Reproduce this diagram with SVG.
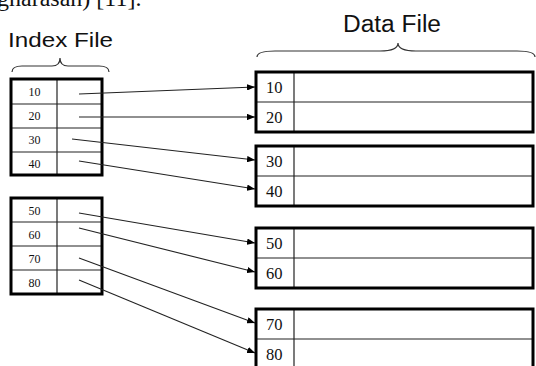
<svg xmlns="http://www.w3.org/2000/svg" width="536" height="366" viewBox="0 0 536 366">
<style>
.outer{fill:none;stroke:#000;stroke-width:3}
.inner{stroke:#222;stroke-width:1.2;fill:none}
.brace{fill:none;stroke:#333;stroke-width:1.2}
.title{font-family:"Liberation Sans",Arial,sans-serif;fill:#111}
.it{font-family:"Liberation Serif","Times New Roman",serif;font-size:12px;fill:#111;text-anchor:middle}
.dt{font-family:"Liberation Serif","Times New Roman",serif;font-size:16.5px;fill:#111}
.conn line{stroke:#222;stroke-width:1.1;marker-end:url(#ah)}
</style>
<defs>
<marker id="ah" viewBox="0 0 10 8" refX="10" refY="4" markerWidth="8" markerHeight="6.4" markerUnits="userSpaceOnUse" orient="auto">
<path d="M0,0 L10,4 L0,8 z" fill="#000"/>
</marker>
</defs>
<rect width="536" height="366" fill="#fff"/>
<text x="-3" y="6" font-family="Liberation Serif,serif" font-size="24" fill="#111">gharasan) [11].</text>

<g id="index-title">
<text class="title" x="8" y="47" font-size="21" textLength="105" lengthAdjust="spacingAndGlyphs">Index File</text>
<path class="brace" d="M12,72 Q12,66 22,66 L52,66 Q60,66 60,58 Q60,66 68,66 L99,66 Q109,66 109,72"/>
</g>
<g id="data-title">
<text class="title" x="343" y="32" font-size="23" textLength="98" lengthAdjust="spacingAndGlyphs">Data File</text>
<path class="brace" d="M257,57 Q257,51 275,51 L380,51 Q398,51 398,43 Q398,51 416,51 L517,51 Q535,51 535,57"/>
</g>

<g id="index-block-1">
<line class="inner" x1="11" y1="104" x2="102" y2="104"/>
<line class="inner" x1="11" y1="128" x2="102" y2="128"/>
<line class="inner" x1="11" y1="152" x2="102" y2="152"/>
<line class="inner" x1="57" y1="79" x2="57" y2="175"/>
<rect class="outer" x="11" y="79" width="91" height="96"/>
<text class="it" x="34.5" y="96">10</text>
<text class="it" x="34.5" y="120">20</text>
<text class="it" x="34.5" y="144">30</text>
<text class="it" x="34.5" y="168">40</text>
</g>

<g id="index-block-2">
<line class="inner" x1="11" y1="222" x2="102" y2="222"/>
<line class="inner" x1="11" y1="246" x2="102" y2="246"/>
<line class="inner" x1="11" y1="270" x2="102" y2="270"/>
<line class="inner" x1="57" y1="198" x2="57" y2="294"/>
<rect class="outer" x="11" y="198" width="91" height="96"/>
<text class="it" x="34.5" y="215">50</text>
<text class="it" x="34.5" y="239">60</text>
<text class="it" x="34.5" y="263">70</text>
<text class="it" x="34.5" y="287">80</text>
</g>

<g id="data-block-1">
<line class="inner" x1="256" y1="102" x2="533" y2="102"/>
<line class="inner" x1="294" y1="72" x2="294" y2="132"/>
<rect class="outer" x="256" y="72" width="277" height="60"/>
<text class="dt" x="266" y="93">10</text>
<text class="dt" x="266" y="123">20</text>
</g>
<g id="data-block-2">
<line class="inner" x1="256" y1="176" x2="533" y2="176"/>
<line class="inner" x1="294" y1="146" x2="294" y2="206"/>
<rect class="outer" x="256" y="146" width="277" height="60"/>
<text class="dt" x="266" y="167">30</text>
<text class="dt" x="266" y="197">40</text>
</g>
<g id="data-block-3">
<line class="inner" x1="256" y1="258" x2="533" y2="258"/>
<line class="inner" x1="294" y1="228" x2="294" y2="288"/>
<rect class="outer" x="256" y="228" width="277" height="60"/>
<text class="dt" x="266" y="249">50</text>
<text class="dt" x="266" y="279">60</text>
</g>
<g id="data-block-4">
<line class="inner" x1="256" y1="339" x2="533" y2="339"/>
<line class="inner" x1="294" y1="309" x2="294" y2="369"/>
<rect class="outer" x="256" y="309" width="277" height="60"/>
<text class="dt" x="266" y="330">70</text>
<text class="dt" x="266" y="360">80</text>
</g>

<g id="connectors" class="conn">
<line x1="79" y1="94" x2="255" y2="87"/>
<line x1="79" y1="117" x2="255" y2="117"/>
<line x1="72" y1="139" x2="255" y2="160"/>
<line x1="79" y1="161" x2="255" y2="189"/>
<line x1="79" y1="213" x2="255" y2="243"/>
<line x1="79" y1="228" x2="255" y2="272"/>
<line x1="79" y1="258" x2="255" y2="323"/>
<line x1="79" y1="280" x2="255" y2="353"/>
</g>
</svg>
